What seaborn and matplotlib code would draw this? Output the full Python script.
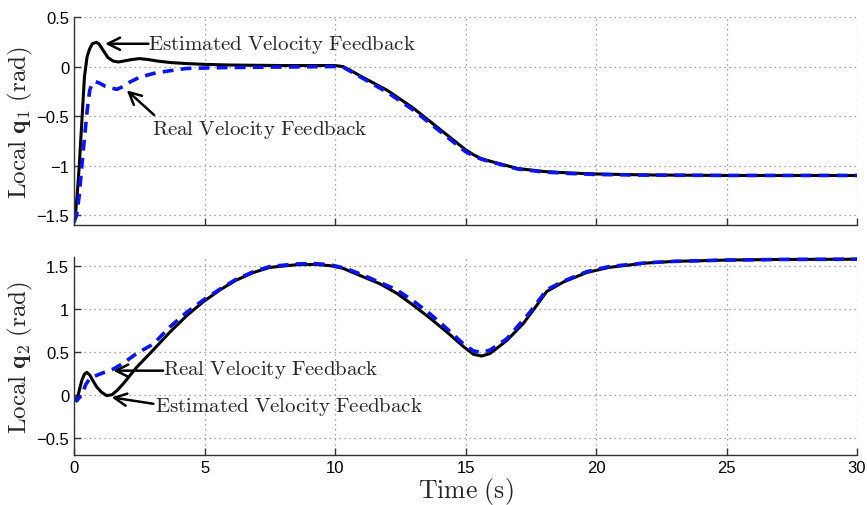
import matplotlib
matplotlib.use("Agg")
import matplotlib.pyplot as plt
import seaborn as sns

# ---------------- data ----------------
t_est_q1 = [0, 0.05, 0.12, 0.2, 0.3, 0.4, 0.5, 0.6, 0.7, 0.85, 0.95, 1.1, 1.3, 1.5, 1.7,
            1.9, 2.2, 2.5, 2.8, 3.2, 3.7, 4.3, 5, 6, 8, 10, 10.3, 10.6, 11, 12, 13, 14, 15,
            15.3, 15.6, 16, 17, 18, 19, 20, 22, 25, 30]
q1_est = [-1.57, -1.5, -1.3, -1.0, -0.55, -0.1, 0.1, 0.18, 0.23, 0.245, 0.23, 0.17, 0.09, 0.055, 0.046,
          0.055, 0.07, 0.08, 0.072, 0.055, 0.04, 0.03, 0.022, 0.015, 0.01, 0.01, 0.0, -0.04, -0.1, -0.24, -0.42, -0.63, -0.84,
          -0.89, -0.93, -0.96, -1.03, -1.06, -1.075, -1.085, -1.095, -1.1, -1.1]

t_real_q1 = [0, 0.1, 0.2, 0.3, 0.4, 0.5, 0.6, 0.7, 0.8, 1.0, 1.2, 1.4, 1.64, 1.9, 2.15, 2.5, 3.04,
             3.6, 4.3, 5, 5.9, 8, 10, 10.3, 10.6, 11, 12, 13, 14, 15, 15.3, 15.6, 16, 17, 18, 19,
             20, 22, 25, 30]
q1_real = [-1.57, -1.5, -1.3, -1.0, -0.72, -0.45, -0.24, -0.17, -0.15, -0.17, -0.2, -0.215, -0.23, -0.2, -0.155, -0.11, -0.07,
           -0.045, -0.02, -0.015, -0.01, -0.005, 0.0, -0.005, -0.05, -0.11, -0.26, -0.44, -0.65, -0.86, -0.9, -0.935, -0.965, -1.035, -1.065, -1.08,
           -1.09, -1.097, -1.1, -1.1]

t_est_q2 = [0, 0.1, 0.2, 0.3, 0.4, 0.49, 0.6, 0.75, 0.87, 1.05, 1.25, 1.45, 1.65, 1.89, 2.4, 2.97,
            3.68, 4.32, 4.95, 5.6, 6.2, 6.87, 7.5, 8.5, 9.2, 9.81, 10.3, 11.08, 11.72, 12.36, 13.0,
            13.64, 14.28, 14.92, 15.3, 15.62, 15.94, 16.58, 17.22, 17.73, 18.11, 18.75, 19.64,
            20.5, 21.9, 23, 25, 27, 30]
q2_est = [-0.03, -0.07, 0.05, 0.17, 0.24, 0.26, 0.23, 0.15, 0.09, 0.03, -0.01, 0.0, 0.05, 0.13, 0.32, 0.5,
          0.73, 0.92, 1.08, 1.22, 1.33, 1.42, 1.48, 1.51, 1.515, 1.5, 1.47, 1.37, 1.29, 1.18, 1.04,
          0.89, 0.73, 0.56, 0.47, 0.45, 0.48, 0.63, 0.83, 1.04, 1.2, 1.31, 1.42,
          1.48, 1.53, 1.55, 1.565, 1.572, 1.575]

t_real_q2 = [0, 0.1, 0.3, 0.45, 0.61, 0.9, 1.2, 1.51, 1.9, 2.4, 3.04, 3.68, 4.32, 4.95, 5.6, 6.2,
             6.87, 7.5, 8.5, 9.2, 9.81, 10.4, 11.08, 12.36, 13.0, 13.64, 14.28, 14.92, 15.3, 15.62,
             15.94, 16.58, 17.47, 18.11, 18.75, 19.64, 20.5, 22, 23, 25, 27, 30]
q2_real = [-0.03, -0.07, 0.0, 0.12, 0.19, 0.23, 0.265, 0.3, 0.37, 0.48, 0.59, 0.79, 0.96, 1.1, 1.23, 1.34,
           1.43, 1.49, 1.52, 1.525, 1.51, 1.47, 1.39, 1.22, 1.09, 0.94, 0.77, 0.59, 0.51, 0.49,
           0.52, 0.65, 0.96, 1.22, 1.32, 1.43, 1.49, 1.535, 1.55, 1.565, 1.572, 1.575]

ylim_q1 = (-1.6, 0.5)
ylim_q2 = (-0.7, 1.6)
yticks_q1 = [-1.5, -1, -0.5, 0, 0.5]
yticks_q2 = [-0.5, 0, 0.5, 1, 1.5]
ytick_labels_q1 = ["\u22121.5", "\u22121", "\u22120.5", "0", "0.5"]
ytick_labels_q2 = ["\u22120.5", "0", "0.5", "1", "1.5"]
xticks = [0, 5, 10, 15, 20, 25, 30]

# ---------------- style ----------------
sns.set_style("white")
plt.rcParams["mathtext.fontset"] = "cm"
plt.rcParams["font.family"] = ["Liberation Sans", "DejaVu Sans"]

fig = plt.figure(figsize=(8.67, 5.06), dpi=100)
ax1 = fig.add_axes([0.0854, 0.5534, 0.9031, 0.4110])
ax2 = fig.add_axes([0.0854, 0.0988, 0.9031, 0.3912])

BLUE = "#0a14f0"

def draw(ax, te, ye, tr, yr):
    sns.lineplot(x=te, y=ye, ax=ax, color="black", lw=2.2, sort=False, estimator=None)
    sns.lineplot(x=tr, y=yr, ax=ax, color=BLUE, lw=2.6, sort=False, estimator=None,
                 linestyle=(0, (3, 2)))

draw(ax1, t_est_q1, q1_est, t_real_q1, q1_real)
draw(ax2, t_est_q2, q2_est, t_real_q2, q2_real)

for ax, yl, yt, ytl in [(ax1, ylim_q1, yticks_q1, ytick_labels_q1),
                        (ax2, ylim_q2, yticks_q2, ytick_labels_q2)]:
    ax.set_xlim(0, 30)
    ax.set_ylim(*yl)
    ax.set_xticks(xticks)
    ax.set_yticks(yt)
    ax.set_yticklabels(ytl)
    ax.grid(True, linestyle=(0, (1, 3)), color="#888888", lw=0.9)
    for s in ["top", "right"]:
        ax.spines[s].set_visible(False)
    for s in ["left", "bottom"]:
        ax.spines[s].set_color("#333333")
        ax.spines[s].set_linewidth(1.0)
    ax.tick_params(direction="in", length=5, width=1, labelsize=12, colors="#333333",
                   labelcolor="black", bottom=True, left=True)

ax1.set_xticklabels([])
ax2.set_xticklabels([str(x) for x in xticks])

ax1.set_ylabel(r"$\mathrm{Local}\ \mathbf{q}_1\ \mathrm{(rad)}$", fontsize=18)
ax2.set_ylabel(r"$\mathrm{Local}\ \mathbf{q}_2\ \mathrm{(rad)}$", fontsize=18)
ax2.set_xlabel(r"$\mathrm{Time\ (s)}$", fontsize=18.5, labelpad=0)
ax1.yaxis.set_label_coords(-0.05, 0.5)
ax2.yaxis.set_label_coords(-0.05, 0.5)

arrow = dict(arrowstyle="->", color="black", lw=1.8, mutation_scale=22,
             shrinkA=0, shrinkB=0)
tsize = 15

# top annotations
ax1.annotate("", xy=(1.19, 0.23), xytext=(2.85, 0.23), arrowprops=arrow)
ax1.text(2.85, 0.23, r"$\mathrm{Estimated\ Velocity\ Feedback}$", fontsize=tsize,
         ha="left", va="center")
ax1.annotate("", xy=(2.02, -0.24), xytext=(3.07, -0.49), arrowprops=arrow)
ax1.text(3.0, -0.633, r"$\mathrm{Real\ Velocity\ Feedback}$", fontsize=tsize,
         ha="left", va="center")

# bottom annotations
ax2.annotate("", xy=(1.5, 0.28), xytext=(3.41, 0.28), arrowprops=arrow)
ax2.text(3.41, 0.30, r"$\mathrm{Real\ Velocity\ Feedback}$", fontsize=tsize,
         ha="left", va="center")
ax2.annotate("", xy=(1.44, -0.03), xytext=(3.04, -0.105), arrowprops=arrow)
ax2.text(3.1, -0.125, r"$\mathrm{Estimated\ Velocity\ Feedback}$", fontsize=tsize,
         ha="left", va="center")

fig.savefig("out.png", dpi=100)
